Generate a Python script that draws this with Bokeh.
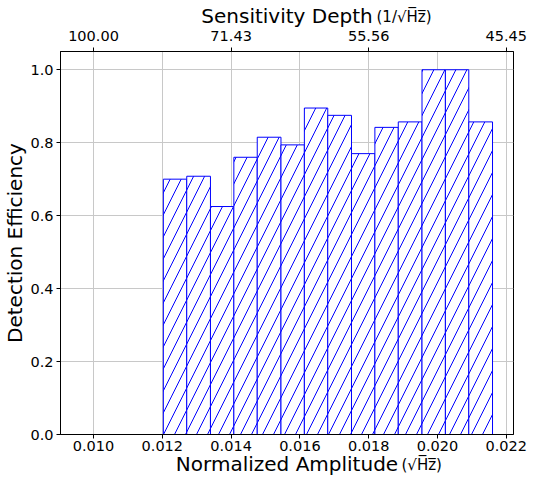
from bokeh.plotting import figure
from bokeh.models import (LinearAxis, FixedTicker, CustomJSTickFormatter,
                          PrintfTickFormatter, Title, Range1d)
from bokeh.embed import file_html
from bokeh.resources import INLINE

# ---- data ----
bin_edges = [0.01203, 0.01271, 0.01340, 0.01408, 0.01476, 0.01545, 0.01613,
             0.01681, 0.01750, 0.01818, 0.01886, 0.01955, 0.02023, 0.02091, 0.02160]
efficiency = [0.700, 0.708, 0.625, 0.760, 0.815, 0.794, 0.895,
              0.875, 0.770, 0.842, 0.857, 1.000, 1.000, 0.857]
x_ticks = [0.010, 0.012, 0.014, 0.016, 0.018, 0.020, 0.022]
top_ticks = [0.010, 0.014, 0.018, 0.022]
y_ticks = [0.0, 0.2, 0.4, 0.6, 0.8, 1.0]

x_title = "Normalized Amplitude"
x_unit = "(\u221aH\u0305z\u0305)"
top_title = "Sensitivity Depth"
top_unit = "(1/\u221aH\u0305z\u0305)"
y_title = "Detection Efficiency"

FONT = "DejaVu Sans"

p = figure(width=527, height=475, output_backend="svg", toolbar_location=None,
           x_range=Range1d(0.00904, 0.02221), y_range=Range1d(0, 1.05),
           y_axis_label=y_title,
           min_border_left=55, min_border_right=14, min_border_top=10,
           min_border_bottom=10)

p.quad(left=bin_edges[:-1], right=bin_edges[1:], bottom=0, top=efficiency,
       fill_color="white", line_color="blue", line_width=1,
       hatch_pattern="/", hatch_color="blue", hatch_scale=22, hatch_weight=1)

top_axis = LinearAxis(ticker=FixedTicker(ticks=top_ticks),
                      formatter=CustomJSTickFormatter(code="return (1/tick).toFixed(2);"),
                      axis_label=top_title)
p.add_layout(top_axis, "above")

bottom_axis = p.below[0]
bottom_axis.ticker = FixedTicker(ticks=x_ticks)
bottom_axis.formatter = PrintfTickFormatter(format="%.3f")
left_axis = p.left[0]
left_axis.ticker = FixedTicker(ticks=y_ticks)
left_axis.formatter = PrintfTickFormatter(format="%.1f")

for ax in [bottom_axis, left_axis, top_axis]:
    ax.axis_line_color = "black"
    ax.axis_line_width = 1
    ax.major_tick_line_color = "black"
    ax.major_tick_in = 0
    ax.major_tick_out = 4
    ax.minor_tick_line_color = None
    ax.major_label_standoff = 3
    ax.major_label_text_font = FONT
    ax.major_label_text_font_size = "14.5px"
    ax.major_label_text_color = "black"
    ax.axis_label_text_font = FONT
    ax.axis_label_text_font_size = "20px"
    ax.axis_label_text_font_style = "normal"
    ax.axis_label_text_color = "black"
    ax.axis_label_standoff = 0
top_axis.major_label_standoff = 7
bottom_axis.major_label_standoff = 2

p.xgrid.grid_line_color = "#c8c8c8"
p.ygrid.grid_line_color = "#c8c8c8"
p.outline_line_color = "black"
p.outline_line_alpha = 1
p.outline_line_width = 1
p.background_fill_color = "white"
p.border_fill_color = "white"

# bottom title and its unit suffix
p.add_layout(Title(text=x_title, align="center", vertical_align="top",
                   standoff=-4, text_font=FONT, text_font_size="20px",
                   text_font_style="normal", text_color="black"), "below")
p.add_layout(Title(text=x_unit, align="left", offset=341,
                   vertical_align="top", standoff=-40, text_font=FONT,
                   text_font_size="15px", text_font_style="normal",
                   text_color="black"), "below")
# top unit suffix
p.add_layout(Title(text=top_unit, align="left", offset=316,
                   vertical_align="bottom", standoff=-50, text_font=FONT,
                   text_font_size="15px", text_font_style="normal",
                   text_color="black"), "above")

open("out.html", "w").write(file_html(p, INLINE))
